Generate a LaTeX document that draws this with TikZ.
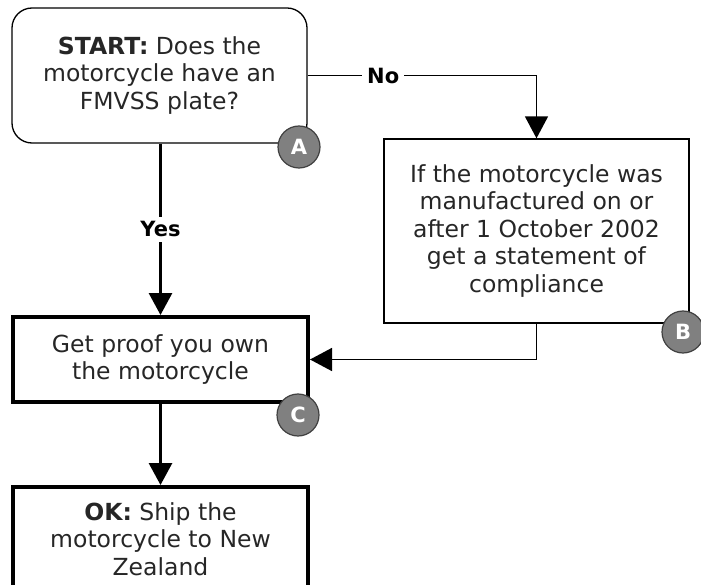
\documentclass[tikz,border=0pt]{standalone}
\usepackage{fontspec}
\setmainfont{DejaVu Sans}
\usetikzlibrary{arrows.meta}

\begin{document}
\begin{tikzpicture}[x=1pt, y=-1pt,
    txt/.style={align=center, inner sep=0pt, text=black!85, font=\fontsize{23.5}{27.5}\selectfont},
    thinbox/.style={txt, draw, line width=1.3pt, minimum width=#1},
    thickbox/.style={txt, draw, line width=4pt, minimum width=#1},
    badge/.style={circle, draw=black!75, fill=black!50, line width=1.2pt, minimum size=42pt, inner sep=0pt, text=white, font=\fontsize{21}{21}\selectfont\bfseries},
    lbl/.style={fill=white, inner sep=5pt, font=\fontsize{21}{21}\selectfont\bfseries},
    tip/.style={-{Triangle[width=23pt, length=22pt]}},
    thinline/.style={line width=1.5pt},
    thickline/.style={line width=3pt}]
    \clip (0, 0) rectangle (701, 585);
    % boxes
    \node[thinbox=295pt, minimum height=135pt, rounded corners=20pt] (start) at (159.5, 75.5) {\textbf{START:} Does the\\motorcycle have an\\FMVSS plate?};
    \node[thinbox=305pt, minimum height=184pt] (stmt) at (536.5, 231) {If the motorcycle was\\manufactured on or\\after 1 October 2002\\get a statement of\\compliance};
    \node[thickbox=295pt, minimum height=85pt] (proof) at (160.5, 359.5) {Get proof you own\\the motorcycle};
    \node[thickbox=295pt, minimum height=104pt] (ok) at (160.5, 539) {\textbf{OK:} Ship the\\motorcycle to New\\Zealand};
    % connectors
    \draw[thickline, tip] (start.south -| proof.north) -- node[lbl] {Yes} (proof.north);
    \draw[thinline, tip] (start.east) -- node[lbl, pos=0.33] {No} (start.east -| stmt.north) -- (stmt.north);
    \draw[thinline, tip] (stmt.south) |- (proof.east);
    \draw[thickline, tip] (proof.south) -- (ok.north);
    % badges
    \node[badge] (badgeA) at (299, 147) {A};
    \node[badge] (badgeB) at (683, 332) {B};
    \node[badge] (badgeC) at (298, 415) {C};
\end{tikzpicture}
\end{document}
